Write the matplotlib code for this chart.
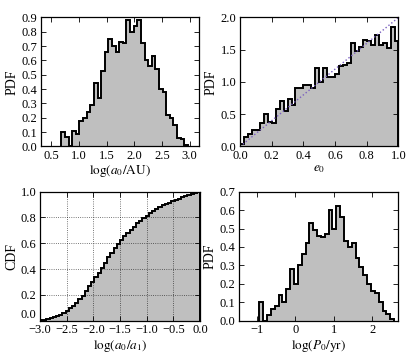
import numpy as np
import matplotlib
matplotlib.use('Agg')
import matplotlib.pyplot as plt
from matplotlib.transforms import ScaledTranslation

plt.rcParams['font.family'] = ['Liberation Serif', 'DejaVu Serif']
plt.rcParams['mathtext.fontset'] = 'stix'
plt.rcParams['font.size'] = 9
plt.rcParams['axes.unicode_minus'] = True

# panel 1: log(a0/AU) histogram
a0_lo, a0_hi = 0.68, 2.97
a0_pdf = [0.10, 0.065, 0.0, 0.105, 0.09, 0.18, 0.20, 0.24, 0.29, 0.44,
          0.335, 0.525, 0.66, 0.75, 0.70, 0.66, 0.73, 0.72, 0.88, 0.80,
          0.84, 0.88, 0.72, 0.60, 0.56, 0.63, 0.54, 0.40, 0.38, 0.22,
          0.20, 0.15, 0.06, 0.05, 0.01]

# panel 2: e0 histogram and model line
e0_lo, e0_hi = 0.0, 1.0
e0_pdf = [0.04, 0.15, 0.20, 0.26, 0.25, 0.37, 0.50, 0.38, 0.37, 0.58,
          0.70, 0.55, 0.74, 0.65, 0.90, 0.90, 0.95, 0.95, 0.91, 1.21,
          1.00, 1.21, 1.08, 1.08, 1.12, 1.25, 1.27, 1.30, 1.60, 1.48,
          1.55, 1.65, 1.63, 1.58, 1.73, 1.58, 1.60, 1.53, 1.85, 1.63]
model_x = [0.0, 1.0]
model_y = [0.0, 2.0]

# panel 3: CDF of log(a0/a1)
r_lo, r_hi = -3.0, 0.0
r_cdf = [0.003, 0.008, 0.014, 0.020, 0.028, 0.036, 0.047, 0.060, 0.075, 0.095,
         0.115, 0.140, 0.165, 0.195, 0.230, 0.265, 0.300, 0.335, 0.370, 0.410,
         0.450, 0.490, 0.525, 0.560, 0.595, 0.625, 0.655, 0.680, 0.705, 0.730,
         0.755, 0.775, 0.795, 0.815, 0.835, 0.852, 0.867, 0.881, 0.894, 0.905,
         0.915, 0.925, 0.935, 0.945, 0.955, 0.965, 0.975, 0.983, 0.992, 1.000]

# panel 4: log(P0/yr) histogram
p0_lo, p0_hi = -0.93, 2.57
p0_pdf = [0.10, 0.0, 0.03, 0.065, 0.08, 0.14, 0.10, 0.17, 0.28, 0.20,
          0.30, 0.36, 0.42, 0.53, 0.49, 0.46, 0.455, 0.47, 0.60, 0.50,
          0.62, 0.56, 0.43, 0.40, 0.42, 0.34, 0.29, 0.25, 0.20, 0.16,
          0.15, 0.10, 0.05, 0.035, 0.01]

fill_col = '#bfbfbf'


def draw_hist(ax, vals, lo, hi):
    edges = np.linspace(lo, hi, len(vals) + 1)
    ax.stairs(vals, edges, fill=True, color=fill_col, lw=0)
    ax.stairs(vals, edges, color='k', lw=1.4)


def style(ax):
    ax.tick_params(direction='in', top=True, right=True, length=3.5, width=0.6,
                   labelsize=9, pad=2.5)
    for s in ax.spines.values():
        s.set_linewidth(0.9)


fig = plt.figure(figsize=(4.07, 3.56), dpi=100)
w, h = 0.3894, 0.3624

ax1 = fig.add_axes([0.1007, 0.5885, w, h])
draw_hist(ax1, a0_pdf, a0_lo, a0_hi)
ax1.set_xlim(0.31, 3.18)
ax1.set_ylim(0, 0.9)
ax1.set_xticks(np.arange(0.5, 3.01, 0.5))
ax1.set_yticks(np.arange(0, 0.91, 0.1))
ax1.set_xlabel(r'$\log(a_0/\mathrm{AU})$', fontsize=9.5, labelpad=1)
ax1.set_ylabel('PDF', fontsize=10, labelpad=2)
style(ax1)

ax2 = fig.add_axes([0.5897, 0.5885, w, h])
draw_hist(ax2, e0_pdf, e0_lo, e0_hi)
ax2.plot(model_x, model_y, ls=':', color='#7a5fc0', lw=1)
ax2.set_xlim(0, 1)
ax2.set_ylim(0, 2)
ax2.set_xticks(np.arange(0, 1.01, 0.2))
ax2.set_yticks(np.arange(0, 2.01, 0.5))
ax2.set_xlabel(r'$e_0$', fontsize=9.5, labelpad=1)
ax2.set_ylabel('PDF', fontsize=10, labelpad=2)
style(ax2)

ax3 = fig.add_axes([0.0983, 0.0992, w + 0.004, h])
draw_hist(ax3, r_cdf, r_lo, r_hi)
ax3.set_xlim(-3, 0)
ax3.set_ylim(0, 1)
ax3.set_xticks(np.arange(-3, 0.01, 0.5))
ax3.set_yticks(np.arange(0, 1.01, 0.2))
ax3.grid(True, ls=':', color='k', lw=0.6, alpha=0.7)
ax3.set_axisbelow(False)
ax3.set_xlabel(r'$\log(a_0/a_1)$', fontsize=9.5, labelpad=1)
ax3.set_ylabel('CDF', fontsize=10, labelpad=2)
style(ax3)
# lift the bottom y label so it clears the x tick labels
lab0 = ax3.yaxis.get_major_ticks()[0].label1
lab0.set_transform(lab0.get_transform() + ScaledTranslation(0, 5 / 72, fig.dpi_scale_trans))

ax4 = fig.add_axes([0.5872, 0.0992, w + 0.002, h])
draw_hist(ax4, p0_pdf, p0_lo, p0_hi)
ax4.set_xlim(-1.46, 2.68)
ax4.set_ylim(0, 0.7)
ax4.set_xticks([-1, 0, 1, 2])
ax4.set_yticks(np.arange(0, 0.71, 0.1))
ax4.set_xlabel(r'$\log(P_0/\mathrm{yr})$', fontsize=9.5, labelpad=1)
ax4.set_ylabel('PDF', fontsize=10, labelpad=2)
style(ax4)

fig.savefig('out.png', dpi=100)
